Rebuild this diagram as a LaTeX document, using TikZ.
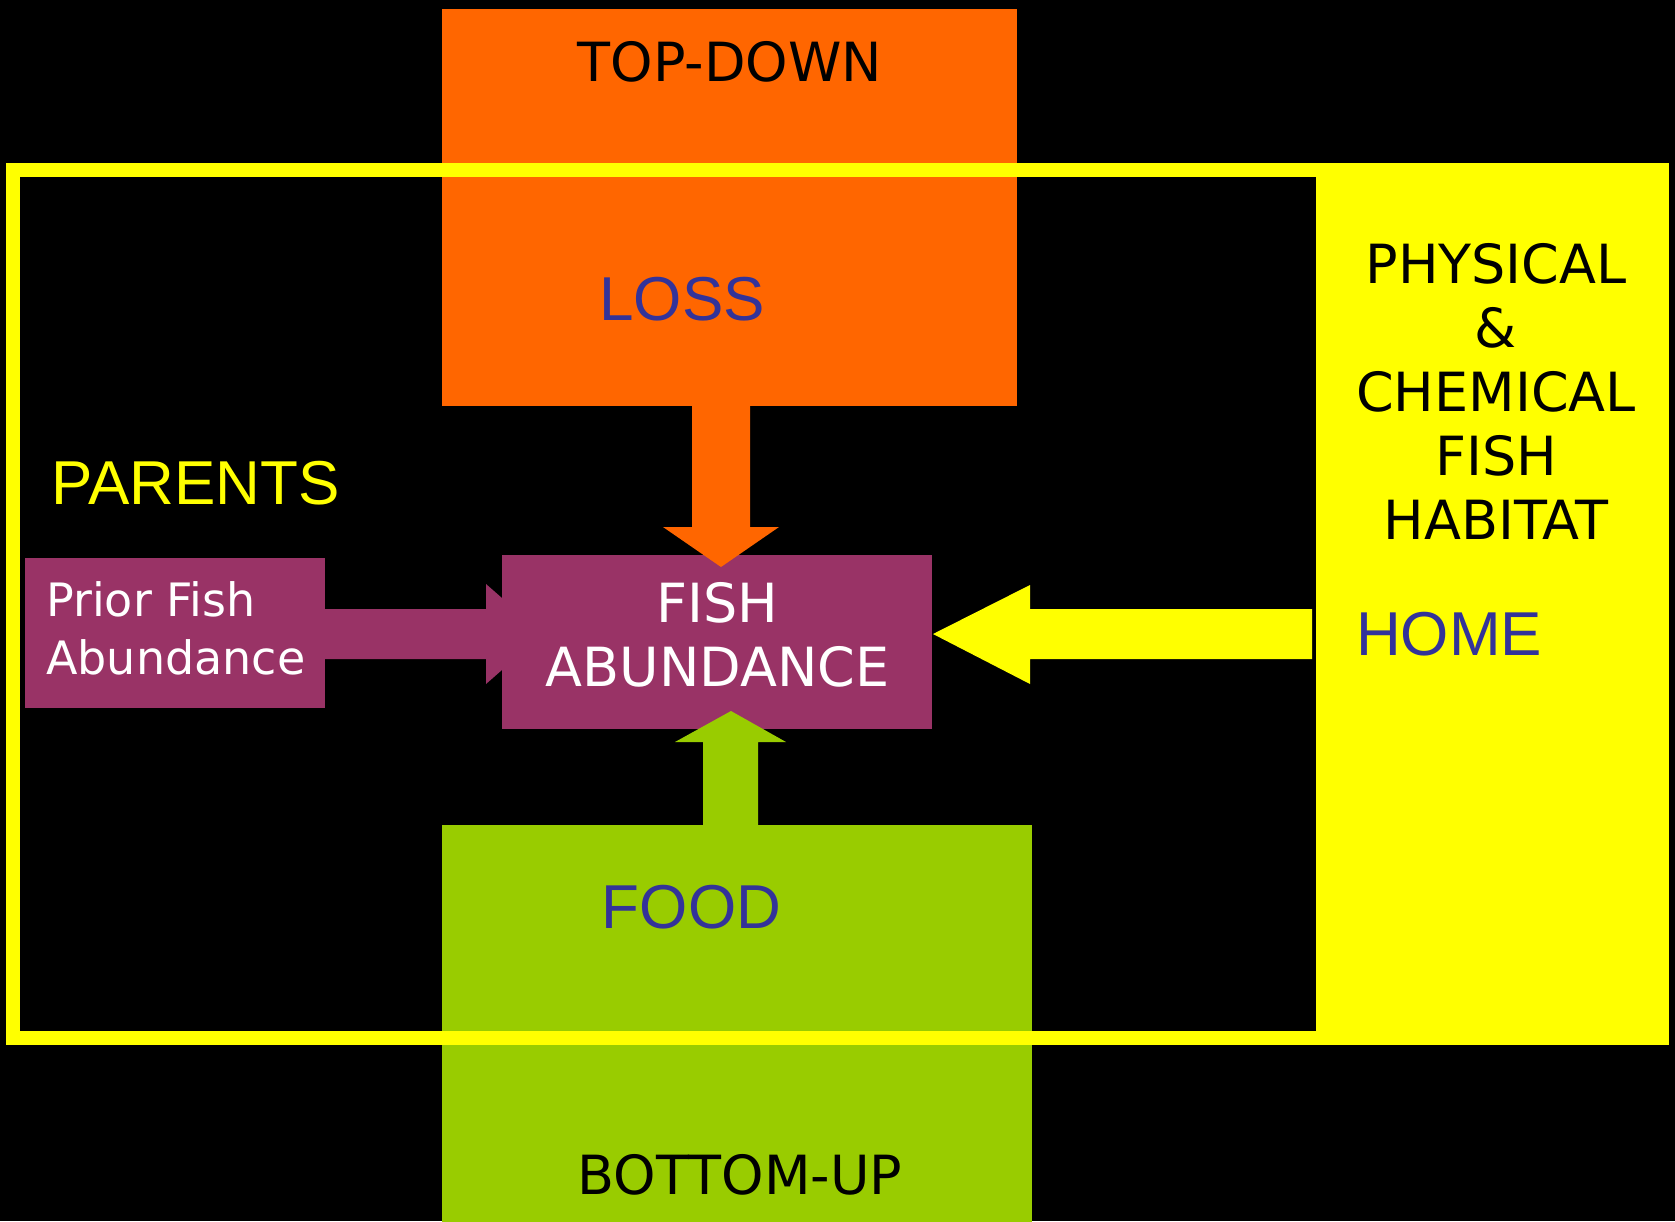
\documentclass[tikz,border=0pt]{standalone}
\usepackage{fontspec}
\newfontfamily\comicf{DejaVu Sans}
\newfontfamily\arialf{Liberation Sans}
\definecolor{orng}{HTML}{FF6600}
\definecolor{ylw}{HTML}{FFFF00}
\definecolor{prpl}{HTML}{993366}
\definecolor{grn}{HTML}{99CC00}
\definecolor{blu}{HTML}{333399}
\begin{document}
\begin{tikzpicture}[x=1pt,y=-1pt,
  blk/.style={rectangle, draw=none, inner sep=0pt, outer sep=0pt},
  comic/.style={font=\comicf\fontsize{54}{64}\selectfont, inner sep=0pt},
  comics/.style={font=\comicf\fontsize{46}{58}\selectfont, inner sep=0pt, text=white},
  arialt/.style={font=\arialf\fontsize{62}{70}\selectfont, inner sep=0pt}]
\fill[black] (0,0) rectangle (1675,1221);
\useasboundingbox (0,0) rectangle (1675,1221);
% big boxes
\node[blk, fill=orng, minimum width=575pt, minimum height=397pt] (topbox) at (729.5,207.5) {};
\node[blk, fill=grn, minimum width=590pt, minimum height=397pt] (foodbox) at (737,1023.5) {};
% yellow frame
\draw[ylw, line width=14pt] (13,170) rectangle (1323,1037.5);
\node[blk, fill=ylw, minimum width=353pt, minimum height=882pt] (habitat) at (1492.5,604) {};
% arrow tips
\coordinate (otip) at (721,567);
\coordinate (gtip) at (731,711);
\coordinate (ytip) at (933,634);
\coordinate (ptip) at (543,634);
% purple arrow (behind the box)
\fill[prpl] (325,609) -- (486,609) -- (486,584) -- (ptip) -- (486,684) -- (486,659) -- (325,659) -- cycle;
% small boxes
\node[blk, fill=prpl, minimum width=300pt, minimum height=150pt] (prior) at (175,633) {};
\node[blk, fill=prpl, minimum width=430pt, minimum height=174pt] (fish) at (717,642) {};
% arrows over the box
\fill[orng] (692,406) -- (692,527) -- (663,527) -- (otip) -- (779,527) -- (750,527) -- (750,406) -- cycle;
\fill[grn] (703,825) -- (703,742) -- (675,742) -- (gtip) -- (786,742) -- (758,742) -- (758,825) -- cycle;
\fill[ylw] (1312,609) -- (1030,609) -- (1030,585) -- (ytip) -- (1030,684) -- (1030,659) -- (1312,659) -- cycle;
% texts
\node[comic, anchor=base] (tdtxt) at (730,81) {TOP-DOWN};
\node[arialt, anchor=base, text=blu] (losstxt) at (682,320) {LOSS};
\node[arialt, anchor=base, text=ylw] (partxt) at (195.5,504) {PARENTS};
\node[comic, align=center, text=white] (fishtxt) at (717.5,634.5) {FISH\\ABUNDANCE};
\node[comics, align=left, anchor=west] (priortxt) at (46,628) {Prior Fish\\Abundance};
\node[comic, align=center] (habtxt) at (1496,391) {PHYSICAL\\\&\\CHEMICAL\\FISH\\HABITAT};
\node[arialt, anchor=base, text=blu] (hometxt) at (1449,655) {HOME};
\node[arialt, anchor=base, text=blu] (foodtxt) at (691.5,928) {FOOD};
\node[comic, anchor=base] (butxt) at (740,1194) {BOTTOM-UP};
\end{tikzpicture}
\end{document}
